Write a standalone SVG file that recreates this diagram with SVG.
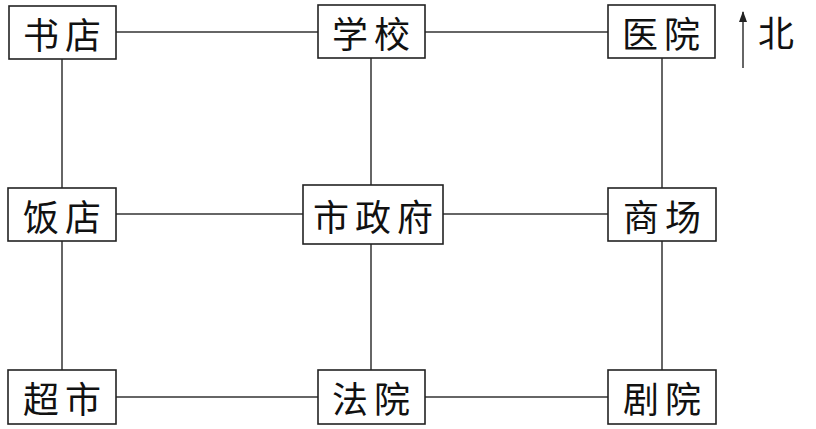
<svg xmlns="http://www.w3.org/2000/svg" width="816" height="429" viewBox="0 0 816 429">
<style>
.box{fill:#fff;stroke:#222;stroke-width:1.6}
.ln{stroke:#333;stroke-width:1.5;fill:none}
.t{font-family:"Noto Sans CJK SC","Noto Sans CJK JP",sans-serif;font-size:36px;fill:#111;text-anchor:middle;dominant-baseline:central;letter-spacing:6px}
</style>
<defs>
<marker id="ah" markerWidth="11" markerHeight="8" refX="10" refY="4" orient="auto" markerUnits="userSpaceOnUse" viewBox="0 0 11 8">
<path d="M0,0 L11,4 L0,8 Z" fill="#222"/>
</marker>
</defs>
<rect width="816" height="429" fill="#fff"/>
<g id="connectors">
<line class="ln" x1="116" y1="32" x2="318" y2="32"/>
<line class="ln" x1="425" y1="32" x2="608" y2="32"/>
<line class="ln" x1="116" y1="214" x2="303" y2="214"/>
<line class="ln" x1="443" y1="214" x2="608" y2="214"/>
<line class="ln" x1="116" y1="397" x2="318" y2="397"/>
<line class="ln" x1="425" y1="397" x2="608" y2="397"/>
<line class="ln" x1="62" y1="59" x2="62" y2="188"/>
<line class="ln" x1="62" y1="241" x2="62" y2="370"/>
<line class="ln" x1="371" y1="58" x2="371" y2="185"/>
<line class="ln" x1="371" y1="244" x2="371" y2="370"/>
<line class="ln" x1="662" y1="58" x2="662" y2="188"/>
<line class="ln" x1="662" y1="241" x2="662" y2="370"/>
</g>
<g id="n-shudian"><rect class="box" x="9" y="6" width="107" height="53"/><text class="t" x="65" y="33">书店</text></g>
<g id="n-xuexiao"><rect class="box" x="318" y="5" width="107" height="53"/><text class="t" x="374" y="32">学校</text></g>
<g id="n-yiyuan"><rect class="box" x="608" y="5" width="107" height="53"/><text class="t" x="664" y="32">医院</text></g>
<g id="n-fandian"><rect class="box" x="8" y="188" width="108" height="53"/><text class="t" x="65" y="215">饭店</text></g>
<g id="n-shizhengfu"><rect class="box" x="303" y="185" width="140" height="59"/><text class="t" x="376" y="215">市政府</text></g>
<g id="n-shangchang"><rect class="box" x="608" y="188" width="108" height="53"/><text class="t" x="665" y="215">商场</text></g>
<g id="n-chaoshi"><rect class="box" x="8" y="370" width="108" height="54"/><text class="t" x="65" y="397">超市</text></g>
<g id="n-fayuan"><rect class="box" x="318" y="370" width="107" height="54"/><text class="t" x="374" y="397">法院</text></g>
<g id="n-juyuan"><rect class="box" x="608" y="370" width="108" height="54"/><text class="t" x="665" y="397">剧院</text></g>
<g id="north">
<line class="ln" x1="743" y1="68" x2="743" y2="12" marker-end="url(#ah)"/>
<text class="t" x="776" y="31" style="letter-spacing:0">北</text>
</g>
</svg>
